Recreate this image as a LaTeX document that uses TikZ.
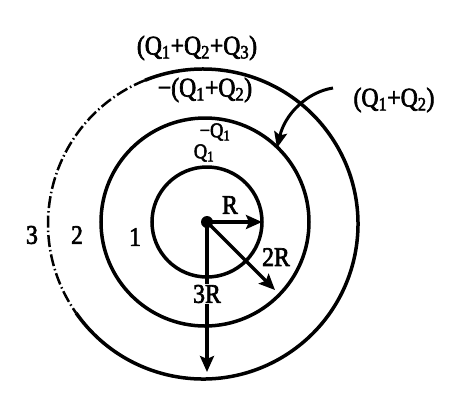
\documentclass[tikz,border=0pt]{standalone}
\usepackage{fontspec}
\setmainfont{Liberation Serif}[FakeStretch=0.88,FakeBold=2.5]
\usetikzlibrary{arrows.meta}
\newcommand\sbq[1]{\textsubscript{#1}}
\begin{document}
\begin{tikzpicture}[x=1bp,y=1bp,
  shell/.style={line width=3.5bp},
  rad/.style={line width=3.5bp,-{Stealth[length=16bp,width=14bp,inset=3bp]}},
  lbl/.style={font=\fontsize{27}{27}\selectfont,inner sep=0pt},
  slbl/.style={font=\fontsize{21}{21}\selectfont,inner sep=0pt}]
\useasboundingbox (-207,-191) rectangle (267,222);
\coordinate (O) at (0,0);
\coordinate (Om) at (-2,0);
\coordinate (Oo) at (-4,-2);
% shells
\draw[shell] (O) circle[radius=55];
\draw[shell] (Om) circle[radius=104];
\draw[shell] (Oo) ++(215:155) arc[start angle=215,end angle=472,radius=155];
\draw[line width=2.5bp,dash pattern=on 12bp off 3bp on 1.5bp off 3bp]
  (Oo) ++(112:155) arc[start angle=112,end angle=215,radius=155];
% radii
\coordinate (tR) at (55,0);
\coordinate (t2R) at (68,-68);
\coordinate (t3R) at (0,-150);
\draw[rad] (O) -- (tR);
\draw[rad] (O) -- (t2R);
\draw[rad] (O) -- (t3R);
\fill (O) circle[radius=6];
\node[lbl] (R) at (23,17) {R};
\node[lbl] (R2) at (69,-35) {2R};
\node[lbl,fill=white,inner sep=1pt] (R3) at (0,-72) {3R};
% region numbers
\node[lbl] (n3) at (-175,-13) {3};
\node[lbl] (n2) at (-130,-13) {2};
\node[lbl] (n1) at (-72,-15) {1};
% charges
\node[lbl] (qa) at (-10,174) {(Q\sbq{1}+Q\sbq{2}+Q\sbq{3})};
\node[lbl] (qb) at (-2,132) {−(Q\sbq{1}+Q\sbq{2})};
\node[slbl] (qc) at (8,90) {−Q\sbq{1}};
\node[slbl] (qd) at (-3,69) {Q\sbq{1}};
\node[lbl] (qe) at (187,122) {(Q\sbq{1}+Q\sbq{2})};
% curved arrow
\coordinate (cs) at (126,134);
\coordinate (ce) at (70,74);
\draw[line width=3bp,-{Stealth[length=16bp,width=13bp,inset=3bp]}]
  (cs) .. controls (100,130) and (78,108) .. (ce);
\end{tikzpicture}
\end{document}
